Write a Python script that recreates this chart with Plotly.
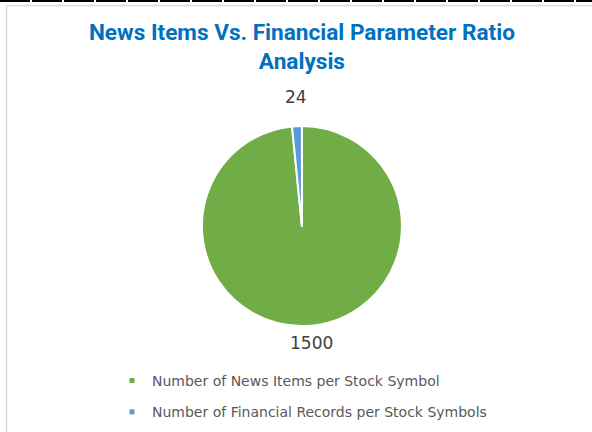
import plotly.graph_objects as go

labels = ["Number of News Items per Stock Symbol", "Number of Financial Records per Stock Symbols"]
values = [1500, 24]
colors = ["#70AD47", "#5B9BD5"]

W, H = 592, 432

fig = go.Figure()
fig.add_trace(go.Pie(
    labels=labels, values=values, sort=False, direction="clockwise", rotation=0,
    marker=dict(colors=colors, line=dict(color="white", width=2)),
    textinfo="none", textposition="none",
    showlegend=False, hoverinfo="label+value",
    domain=dict(x=[0.2, 0.82], y=[1 - 326 / H, 1 - 126 / H]),
))
for lab, col, grp in zip(labels, colors, ["a", "b"]):
    fig.add_trace(go.Scatter(
        x=[None], y=[None], mode="markers", name=lab, legendgroup=grp,
        marker=dict(symbol="square", size=5, color=col), showlegend=True,
    ))

# data labels (value text) above / below the pie
label_pos = [(311, 342.5), (295.5, 97)]
annotations = [
    dict(text=str(v), x=px / W, y=1 - py / H, xref="paper", yref="paper",
         xanchor="center", yanchor="middle", showarrow=False,
         font=dict(family="DejaVu Sans", size=17, color="#404040"))
    for v, (px, py) in zip(values, label_pos)
]

fig.update_layout(
    width=W, height=H, margin=dict(l=0, r=0, t=0, b=0),
    paper_bgcolor="white", plot_bgcolor="white",
    title=dict(text="News Items Vs. Financial Parameter Ratio<br>Analysis",
               font=dict(family="Roboto", size=22.6, color="#0070C0", weight="bold"),
               x=0.51, xanchor="center", y=1 - 40 / H, yanchor="top"),
    xaxis=dict(visible=False), yaxis=dict(visible=False),
    annotations=annotations,
    legend=dict(x=112 / W, y=1 - 365 / H, xanchor="left", yanchor="top",
                traceorder="grouped", tracegroupgap=10, itemsizing="trace",
                font=dict(family="DejaVu Sans", size=14, color="#595959"),
                bgcolor="rgba(0,0,0,0)"),
    shapes=[
        dict(type="line", xref="paper", yref="paper", x0=0, x1=1, y0=1 - 1 / H, y1=1 - 1 / H,
             line=dict(color="black", width=2, dash="30px,2px")),
        dict(type="line", xref="paper", yref="paper", x0=6.5 / W, x1=1, y0=1 - 5.5 / H, y1=1 - 5.5 / H,
             line=dict(color="#D9D9D9", width=1.5)),
        dict(type="line", xref="paper", yref="paper", x0=6.5 / W, x1=6.5 / W, y0=0, y1=1 - 5.5 / H,
             line=dict(color="#D9D9D9", width=1.5)),
    ],
)
fig.write_html("out.html")
